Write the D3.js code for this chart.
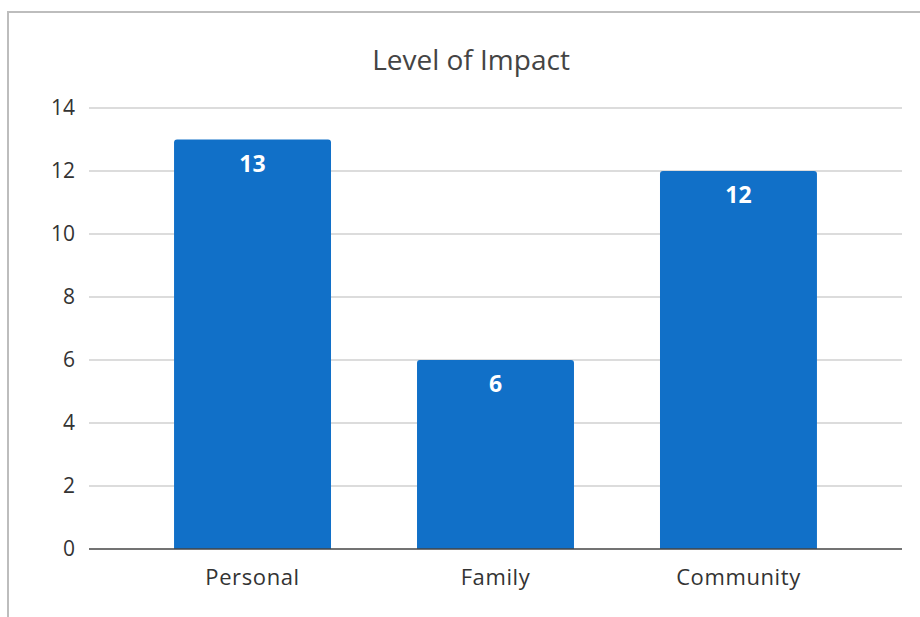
<!DOCTYPE html>
<html><head><meta charset="utf-8">
<script src="https://cdn.jsdelivr.net/npm/d3@7"></script>
<style>html,body{margin:0;padding:0;background:#fff;}svg{display:block;}</style>
</head><body>
<svg id="chart" width="920" height="617"></svg>
<script>
const categories = ["Personal", "Family", "Community"];
const values = [13, 6, 12];
const yTicks = [0, 2, 4, 6, 8, 10, 12, 14];
const title = "Level of Impact";

(function () {
const svg = d3.select("#chart");
const font = "'Open Sans', sans-serif";

// outer border
svg.append("rect").attr("x", 8).attr("y", 12).attr("width", 940).attr("height", 640)
  .attr("fill", "none").attr("stroke", "#bdbdbd").attr("stroke-width", 2);

const pL = 89, pR = 902, pT = 108, pB = 549;
const x = d3.scaleBand().domain(categories).range([pL, pR]).paddingInner(0.354).paddingOuter(0.35);
const y = d3.scaleLinear().domain([0, 14]).range([pB, pT]);

// gridlines
svg.append("g").selectAll("line").data(yTicks.filter(d => d !== 0)).join("line")
  .attr("x1", pL).attr("x2", pR).attr("y1", d => y(d)).attr("y2", d => y(d))
  .attr("stroke", "#d0d0d0").attr("stroke-width", 1.5);

// y axis labels
const yAxis = d3.axisLeft(y).tickValues(yTicks).tickSize(0).tickPadding(14).tickFormat(d3.format("d"));
const ya = svg.append("g").attr("transform", `translate(${pL},0)`).call(yAxis);
ya.select(".domain").remove();
ya.selectAll("text").attr("font-family", font).attr("font-size", 21).attr("fill", "#333");

// bars with rounded top corners
const r = 3;
function barPath(x0, w, yTop, yBot) {
  return `M${x0},${yBot} L${x0},${yTop + r} Q${x0},${yTop} ${x0 + r},${yTop} L${x0 + w - r},${yTop} Q${x0 + w},${yTop} ${x0 + w},${yTop + r} L${x0 + w},${yBot} Z`;
}
svg.append("g").selectAll("path").data(categories).join("path")
  .attr("d", (c, i) => barPath(x(c), x.bandwidth(), y(values[i]), y(0)))
  .attr("fill", "#1170c8");

// value labels
svg.append("g").selectAll("text").data(categories).join("text")
  .attr("x", c => x(c) + x.bandwidth() / 2)
  .attr("y", (c, i) => y(values[i]) + 32)
  .attr("text-anchor", "middle").attr("font-family", font).attr("font-weight", "bold")
  .attr("font-size", 23).attr("fill", "#fff")
  .text((c, i) => values[i]);

// x axis
const xAxis = d3.axisBottom(x).tickSize(0).tickPadding(20);
const xa = svg.append("g").attr("transform", `translate(0,${pB})`).call(xAxis);
xa.select(".domain").remove();
xa.selectAll("text").attr("font-family", font).attr("font-size", 22)
  .attr("letter-spacing", "0.6px").attr("fill", "#333");
svg.append("line").attr("x1", pL).attr("x2", pR).attr("y1", pB).attr("y2", pB)
  .attr("stroke", "#444").attr("stroke-width", 1.5);

// title
svg.append("text").attr("x", 471).attr("y", 70).attr("text-anchor", "middle")
  .attr("font-family", font).attr("font-size", 28).attr("fill", "#444").text(title);
})();
</script>
</body></html>
